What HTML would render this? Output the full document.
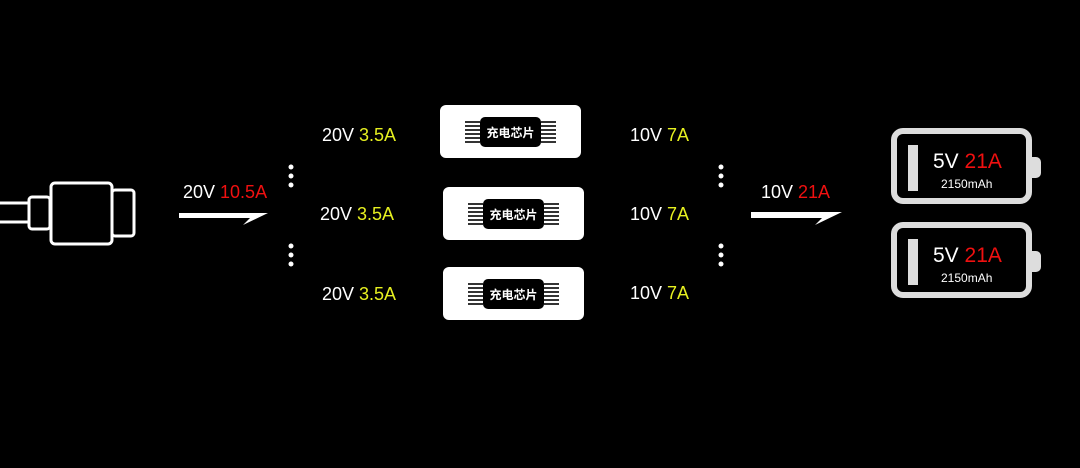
<!DOCTYPE html>
<html><head><meta charset="utf-8"><style>
body{margin:0;background:#000;width:1080px;height:463px;overflow:hidden}
svg text{font-family:"Liberation Sans","Noto Sans CJK SC",sans-serif}
</style></head><body>
<svg width="1080" height="463" viewBox="0 0 1080 463" xmlns="http://www.w3.org/2000/svg">
<rect width="1080" height="463" fill="#000"/>
<!-- plug -->
<g fill="none" stroke="#fff" stroke-width="3">
<line x1="0" y1="203" x2="29" y2="203"/><line x1="0" y1="222" x2="29" y2="222"/>
<rect x="29" y="197" width="21" height="32" rx="3"/>
<rect x="51" y="183" width="61" height="61" rx="4"/>
<rect x="112" y="190" width="22" height="46" rx="3"/>
</g>
<!-- arrows -->
<polygon points="179,213 268,213 243,225 250,218 179,218" fill="#fff"/>
<polygon points="751,212 842,212 815,225 822,218 751,218" fill="#fff"/>
<!-- dots -->
<g fill="#fff">
<circle cx="291" cy="167" r="2.5"/><circle cx="291" cy="176" r="2.5"/><circle cx="291" cy="185" r="2.5"/>
<circle cx="291" cy="246" r="2.5"/><circle cx="291" cy="255" r="2.5"/><circle cx="291" cy="264" r="2.5"/>
<circle cx="721" cy="167" r="2.5"/><circle cx="721" cy="176" r="2.5"/><circle cx="721" cy="185" r="2.5"/>
<circle cx="721" cy="246" r="2.5"/><circle cx="721" cy="255" r="2.5"/><circle cx="721" cy="264" r="2.5"/>
</g>
<!-- labels -->
<g font-size="18" fill="#fff">
<text x="183" y="198">20V <tspan fill="#f01010">10.5A</tspan></text>
<text x="322" y="141">20V <tspan fill="#e6f020">3.5A</tspan></text>
<text x="320" y="220">20V <tspan fill="#e6f020">3.5A</tspan></text>
<text x="322" y="300">20V <tspan fill="#e6f020">3.5A</tspan></text>
<text x="630" y="141">10V <tspan fill="#e6f020">7A</tspan></text>
<text x="630" y="220">10V <tspan fill="#e6f020">7A</tspan></text>
<text x="630" y="299">10V <tspan fill="#e6f020">7A</tspan></text>
<text x="761" y="198">10V <tspan fill="#f01010">21A</tspan></text>
</g>
<!-- chips -->
<defs>
<g id="chip">
<rect x="0" y="0" width="141" height="53" rx="6" fill="#fff"/>
<g stroke="#000" stroke-width="1.6">
<line x1="25" y1="17" x2="40" y2="17"/><line x1="25" y1="21" x2="40" y2="21"/><line x1="25" y1="25" x2="40" y2="25"/><line x1="25" y1="29" x2="40" y2="29"/><line x1="25" y1="33" x2="40" y2="33"/><line x1="25" y1="37" x2="40" y2="37"/>
<line x1="101" y1="17" x2="116" y2="17"/><line x1="101" y1="21" x2="116" y2="21"/><line x1="101" y1="25" x2="116" y2="25"/><line x1="101" y1="29" x2="116" y2="29"/><line x1="101" y1="33" x2="116" y2="33"/><line x1="101" y1="37" x2="116" y2="37"/>
</g>
<rect x="40" y="12" width="61" height="30" rx="5" fill="#000"/>
<text x="70.5" y="32" font-size="12" font-weight="bold" fill="#fff" text-anchor="middle">充电芯片</text>
</g>
<g id="bat">
<rect x="894" y="0" width="135" height="70" rx="9" fill="none" stroke="#ddd" stroke-width="6"/>
<path d="M1032 26 h4 a5 5 0 0 1 5 5 v11 a5 5 0 0 1 -5 5 h-4 z" fill="#ddd"/>
<rect x="908" y="14" width="10" height="46" fill="#ddd"/>
<text x="933" y="37" font-size="21" fill="#fff">5V <tspan fill="#f01010">21A</tspan></text>
<text x="941" y="57" font-size="12" fill="#fff">2150mAh</text>
</g>
</defs>
<use href="#chip" x="440" y="105"/>
<use href="#chip" x="443" y="187"/>
<use href="#chip" x="443" y="267"/>
<use href="#bat" x="0" y="131"/>
<use href="#bat" x="0" y="225"/>
</svg>
</body></html>
